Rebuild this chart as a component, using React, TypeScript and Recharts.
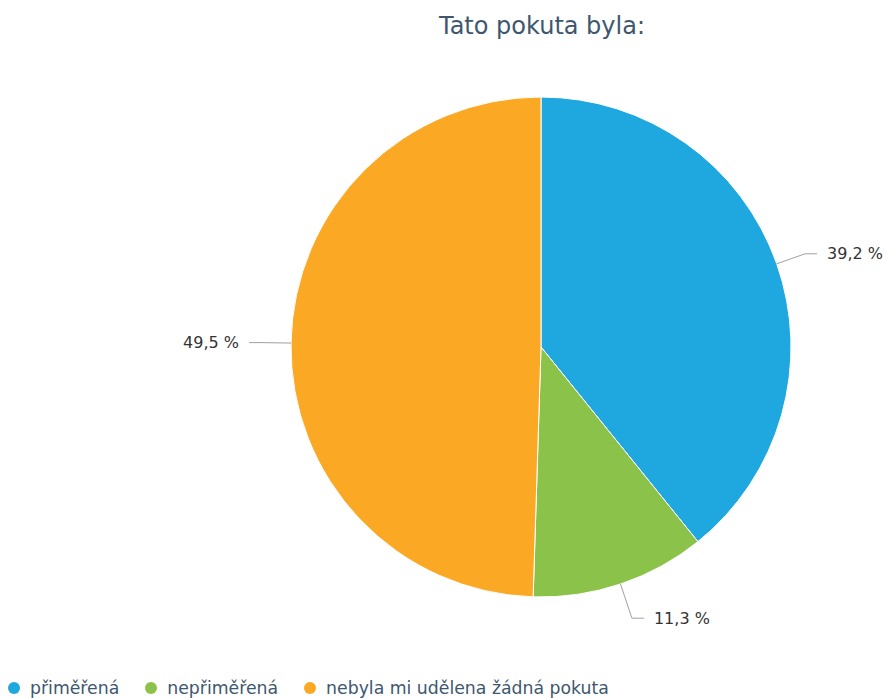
import React from 'react';
import { PieChart, Pie, Cell } from 'recharts';

const categories = ['přiměřená', 'nepřiměřená', 'nebyla mi udělena žádná pokuta'];
const values = [39.2, 11.3, 49.5];
const colors = ['#1fa8e0', '#8bc34a', '#fba824'];
const title = 'Tato pokuta byla:';

const data = categories.map((name, i) => ({ name, value: values[i] }));

const FONT = '"DejaVu Sans", Verdana, sans-serif';
const RADIAN = Math.PI / 180;

const fmt = (v: number) => v.toFixed(1).replace('.', ',') + ' %';

const renderLabel = (props: any) => {
  const { cx, cy, midAngle, outerRadius, value, index } = props;
  const cos = Math.cos(-midAngle * RADIAN);
  const sin = Math.sin(-midAngle * RADIAN);
  const sx = cx + outerRadius * cos;
  const sy = cy + outerRadius * sin;
  const ext = sin > 0.5 ? 36 : 30;
  const mx = cx + (outerRadius + ext) * cos;
  const my = cy + (outerRadius + ext) * sin;
  const dir = cos >= 0 ? 1 : -1;
  const ex = mx + dir * 12;
  const ey = my;
  return (
    <g key={`lbl-${index}`}>
      <path d={`M${sx},${sy}L${mx},${my}L${ex},${ey}`} stroke="#a0a0a0" strokeWidth={1} fill="none" />
      <text
        x={ex + dir * 10}
        y={ey}
        textAnchor={dir > 0 ? 'start' : 'end'}
        dominantBaseline="central"
        fill="#333333"
        fontSize={16}
        fontFamily={FONT}
      >
        {fmt(value)}
      </text>
    </g>
  );
};

export default function App() {
  return (
    <div style={{ position: 'absolute', left: 0, top: 0, width: 885, height: 698, background: '#fff', fontFamily: FONT, overflow: 'hidden' }}>
      <div
        style={{
          position: 'absolute',
          left: 342,
          width: 400,
          top: 12,
          textAlign: 'center',
          fontSize: 24,
          color: '#3e576f',
          lineHeight: '28px',
        }}
      >
        {title}
      </div>
      <PieChart width={885} height={698} margin={{ top: 0, right: 0, bottom: 0, left: 0 }} style={{ position: 'absolute', left: 0, top: 0 }}>
        <Pie
          data={data}
          dataKey="value"
          nameKey="name"
          cx={541}
          cy={347}
          outerRadius={250}
          startAngle={90}
          endAngle={-270}
          stroke="#ffffff"
          strokeWidth={1}
          label={renderLabel}
          labelLine={false}
          isAnimationActive={false}
        >
          {data.map((d, i) => (
            <Cell key={d.name} fill={colors[i]} />
          ))}
        </Pie>
      </PieChart>
      <div
        style={{
          position: 'absolute',
          left: 8,
          top: 677,
          display: 'flex',
          alignItems: 'center',
          fontSize: 17.3,
          color: '#3e576f',
          whiteSpace: 'nowrap',
        }}
      >
        {categories.map((c, i) => (
          <div key={c} style={{ display: 'flex', alignItems: 'center', marginRight: 26 }}>
            <span
              style={{
                display: 'inline-block',
                width: 12,
                height: 12,
                borderRadius: 6,
                background: colors[i],
                marginRight: 10,
              }}
            />
            <span style={{ lineHeight: '22px' }}>{c}</span>
          </div>
        ))}
      </div>
    </div>
  );
}
